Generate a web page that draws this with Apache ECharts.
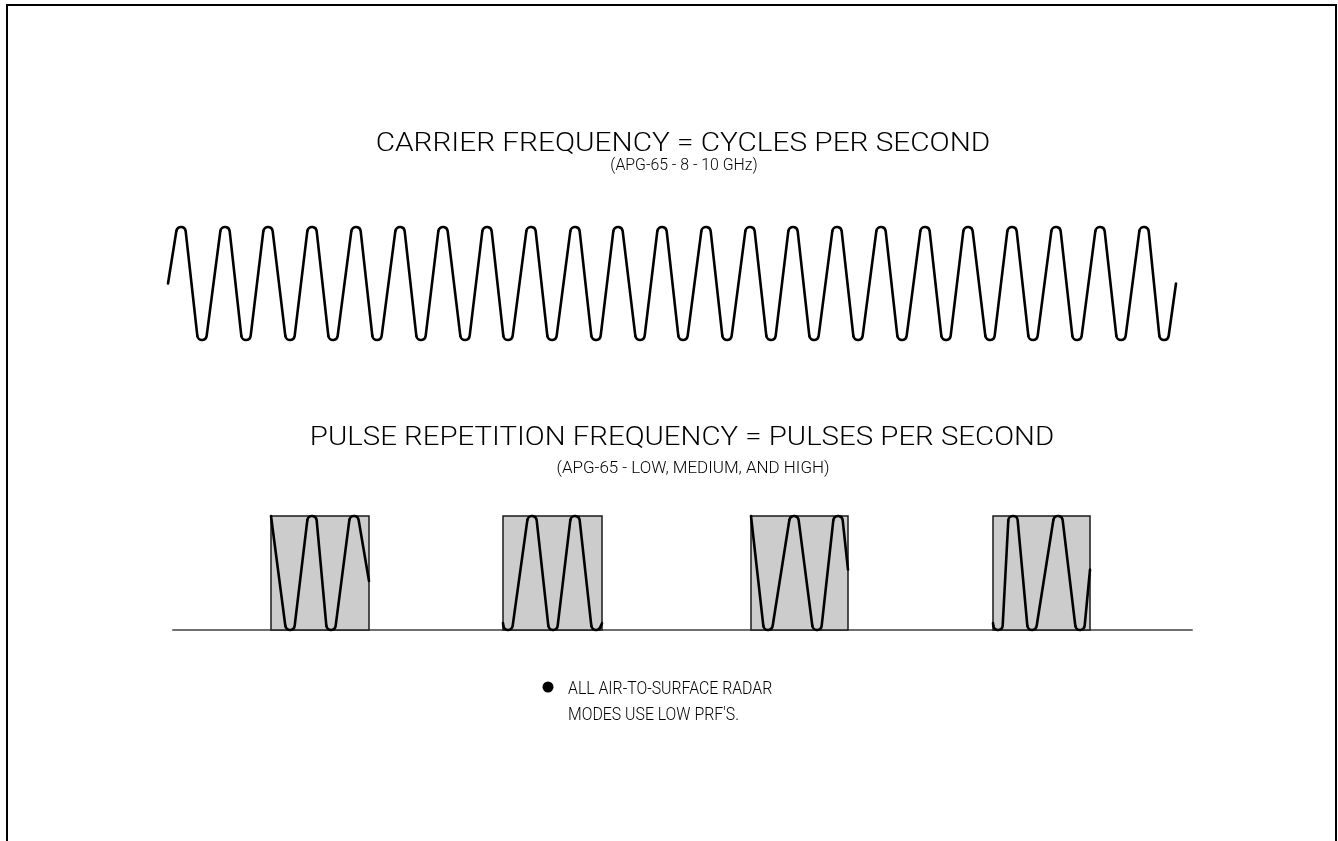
<!DOCTYPE html>
<html><head><meta charset="utf-8">
<script src="https://cdn.jsdelivr.net/npm/echarts@6/dist/echarts.min.js"></script>
<style>html,body{margin:0;padding:0;background:#fff}#c{width:1338px;height:841px}</style>
</head><body><div id="c"></div>
<script>
// ---- Carrier wave: extremum positions (time units) and normalized levels ----
const carrierTime = [0, 13, 34, 57, 78, 100, 122, 144, 165, 188, 209, 232, 253, 275, 297, 319, 340, 363, 384, 407,
  428, 450, 472, 494, 515, 538, 559, 582, 603, 625, 646, 669, 690, 713, 734, 757, 778, 800, 822, 844,
  865, 888, 909, 932, 953, 976, 996, 1008];
const carrierLevel = [0, 1, -1, 1, -1, 1, -1, 1, -1, 1, -1, 1, -1, 1, -1, 1, -1, 1, -1, 1,
  -1, 1, -1, 1, -1, 1, -1, 1, -1, 1, -1, 1, -1, 1, -1, 1, -1, 1, -1, 1,
  -1, 1, -1, 1, -1, 1, -1, 0];

// ---- Pulse train: pulse windows [start, end] and the carrier inside each ----
const pulseStart = [98, 330, 578, 820];
const pulseEnd = [196, 429, 675, 917];
const pulseHeight = [1, 1, 1, 1];
const pulse1Time = [98, 117, 139, 158, 181, 196];
const pulse1Level = [1, 0, 1, 0, 1, 0.43];
const pulse2Time = [330, 335, 359, 380, 402, 423, 429];
const pulse2Level = [0.06, 0, 1, 0, 1, 0, 0.06];
const pulse3Time = [578, 595, 621, 644, 665, 675];
const pulse3Level = [1, 0, 1, 0, 1, 0.53];
const pulse4Time = [820, 825, 840, 859, 885, 907, 917];
const pulse4Level = [0.06, 0, 1, 0, 1, 0, 0.53];

// ---- Text ----
const title1 = 'CARRIER FREQUENCY = CYCLES PER SECOND';
const sub1 = '(APG-65 - 8 - 10 GHz)';
const title2 = 'PULSE REPETITION FREQUENCY = PULSES PER SECOND';
const sub2 = '(APG-65 - LOW, MEDIUM, AND HIGH)';
const note1 = 'ALL AIR-TO-SURFACE RADAR';
const note2 = "MODES USE LOW PRF'S.";

const TIP_R = 4.7; // rounding radius of wave tips (px)
const FONT = "Roboto, 'Liberation Sans', Arial, sans-serif";

function waveSeries(xs, ys, xi, yi) {
  const n = xs.length;
  function kind(k) {
    if (k === 0 || k === n - 1) return 'end';
    return (ys[k] > ys[k - 1] && ys[k] > ys[k + 1]) ? 'peak' : 'trough';
  }
  return {
    type: 'custom', coordinateSystem: 'cartesian2d', xAxisIndex: xi, yAxisIndex: yi,
    clip: false, z: 5, silent: true,
    data: xs.map((x, k) => [x, ys[k]]),
    renderItem: function (params, api) {
      const i = params.dataIndex;
      if (i >= n - 1) return null;
      function circ(k) {
        const p = api.coord([xs[k], ys[k]]);
        const kd = kind(k);
        if (kd === 'end') return { x: p[0], y: p[1], r: 0, kd: kd };
        return { x: p[0], y: kd === 'peak' ? p[1] + TIP_R : p[1] - TIP_R, r: TIP_R, kd: kd };
      }
      function tangent(a, b) {
        const dx = b.x - a.x, dy = b.y - a.y;
        const L = Math.sqrt(dx * dx + dy * dy);
        const th = Math.atan2(dy, dx);
        const c = Math.min(1, (a.r + b.r) / L);
        const g = Math.acos(c);
        const s = (a.kd === 'peak' || b.kd === 'trough') ? -1 : 1;
        const ang = th + s * g;
        const ux = Math.cos(ang), uy = Math.sin(ang);
        return { ax: a.x + a.r * ux, ay: a.y + a.r * uy, bx: b.x - b.r * ux, by: b.y - b.r * uy };
      }
      const cur = circ(i), nxt = circ(i + 1);
      const out = tangent(cur, nxt);
      let d = '';
      if (cur.kd === 'end') {
        d = 'M' + cur.x + ' ' + cur.y;
      } else {
        const prv = circ(i - 1);
        const inc = tangent(prv, cur);
        const sweep = cur.kd === 'peak' ? 1 : 0;
        d = 'M' + inc.bx + ' ' + inc.by + ' A' + TIP_R + ' ' + TIP_R + ' 0 0 ' + sweep + ' ' + out.ax + ' ' + out.ay;
      }
      d += ' L' + out.bx + ' ' + out.by;
      return {
        type: 'path', shape: { pathData: d },
        style: { fill: 'none', stroke: '#000', lineWidth: 2.6, lineCap: 'round', lineJoin: 'round' }
      };
    }
  };
}

const hiddenAxis = { show: true, axisLine: { show: false }, axisTick: { show: false }, axisLabel: { show: false }, splitLine: { show: false } };

const option = {
  backgroundColor: '#fff',
  animation: false,
  grid: [
    { left: 168, width: 1008, top: 227, height: 113 },
    { left: 173, width: 1019, top: 516, height: 114 }
  ],
  xAxis: [
    Object.assign({ type: 'value', gridIndex: 0, min: 0, max: 1008 }, hiddenAxis),
    { type: 'value', gridIndex: 1, min: 0, max: 1019,
      axisLine: { show: true, onZero: false, lineStyle: { color: '#707070', width: 2 } },
      axisTick: { show: false }, axisLabel: { show: false }, splitLine: { show: false } }
  ],
  yAxis: [
    Object.assign({ type: 'value', gridIndex: 0, min: -1, max: 1 }, hiddenAxis),
    Object.assign({ type: 'value', gridIndex: 1, min: 0, max: 1 }, hiddenAxis)
  ],
  series: [
    waveSeries(carrierTime, carrierLevel, 0, 0),
    {
      type: 'custom', coordinateSystem: 'cartesian2d', xAxisIndex: 1, yAxisIndex: 1, z: 2, silent: true,
      data: pulseStart.map((s, k) => [s, pulseEnd[k], pulseHeight[k]]),
      renderItem: function (params, api) {
        const p0 = api.coord([api.value(0), 0]);
        const p1 = api.coord([api.value(1), api.value(2)]);
        return {
          type: 'rect',
          shape: { x: p0[0], y: p1[1], width: p1[0] - p0[0], height: p0[1] - p1[1] },
          style: { fill: '#cccccc', stroke: '#1a1a1a', lineWidth: 1.5 }
        };
      }
    },
    waveSeries(pulse1Time, pulse1Level, 1, 1),
    waveSeries(pulse2Time, pulse2Level, 1, 1),
    waveSeries(pulse3Time, pulse3Level, 1, 1),
    waveSeries(pulse4Time, pulse4Level, 1, 1)
  ],
  graphic: [
    { type: 'rect', z: 10, shape: { x: 7, y: 5, width: 1329, height: 900 }, style: { fill: 'none', stroke: '#000', lineWidth: 2 } },
    { type: 'text', x: 683, y: 145, scaleX: 1.19, style: { text: title1, font: '300 25px ' + FONT, fill: '#000', textAlign: 'center', textVerticalAlign: 'middle' } },
    { type: 'text', x: 684, y: 166, scaleX: 0.99, style: { text: sub1, font: '300 16px ' + FONT, fill: '#000', textAlign: 'center', textVerticalAlign: 'middle' } },
    { type: 'text', x: 682, y: 438, scaleX: 1.13, style: { text: title2, font: '300 26px ' + FONT, fill: '#000', textAlign: 'center', textVerticalAlign: 'middle' } },
    { type: 'text', x: 693, y: 469, scaleX: 1.06, style: { text: sub2, font: '300 16px ' + FONT, fill: '#000', textAlign: 'center', textVerticalAlign: 'middle' } },
    { type: 'circle', shape: { cx: 548, cy: 687, r: 5.5 }, style: { fill: '#000' } },
    { type: 'text', x: 568, y: 689, scaleX: 0.88, style: { text: note1, font: '300 18px ' + FONT, fill: '#000', textAlign: 'left', textVerticalAlign: 'middle' } },
    { type: 'text', x: 568, y: 715, scaleX: 0.88, style: { text: note2, font: '300 18px ' + FONT, fill: '#000', textAlign: 'left', textVerticalAlign: 'middle' } }
  ]
};

const chart = echarts.init(document.getElementById('c'), null, { renderer: 'canvas' });
chart.setOption(option);
</script>
</body></html>
